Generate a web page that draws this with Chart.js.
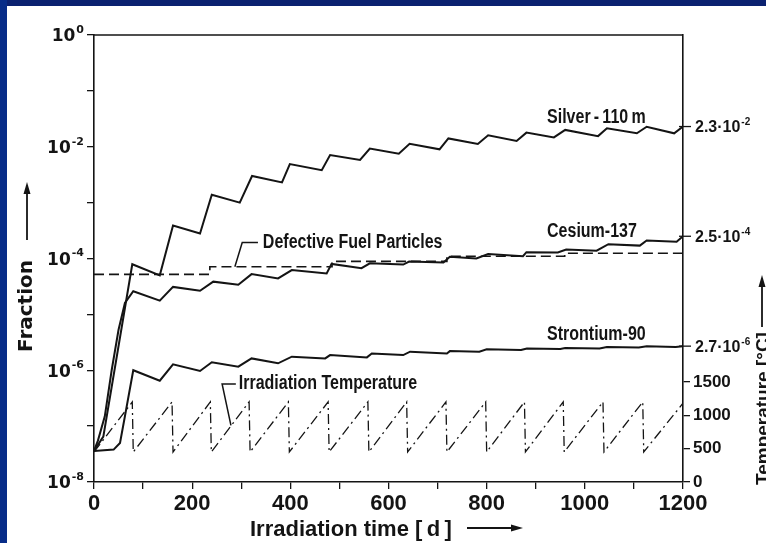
<!DOCTYPE html>
<html>
<head>
<meta charset="utf-8">
<title>Fission product release</title>
<script src="https://cdn.jsdelivr.net/npm/chart.js@4.4.1/dist/chart.umd.min.js"></script>
<style>
  html, body { margin: 0; padding: 0; background: #fff; }
  canvas { display: block; }
</style>
</head>
<body>
<canvas id="releaseChart" width="766" height="543"></canvas>
<script>
// release fraction (log) and irradiation temperature vs. irradiation time
const silverDays = [0, 19, 78, 134, 161, 216, 240, 297, 322, 383, 399, 464, 481, 542, 562, 621, 643, 704, 722, 782, 803, 861, 881, 937, 960, 1027, 1045, 1106, 1126, 1182, 1200];
const silverFraction = [3.6e-8, 6.5e-8, 7.9e-5, 5.0e-5, 3.9e-4, 2.8e-4, 1.38e-3, 1.0e-3, 3.0e-3, 2.3e-3, 4.9e-3, 3.8e-3, 7.1e-3, 5.8e-3, 9.3e-3, 7.5e-3, 1.13e-2, 9.0e-3, 1.41e-2, 1.12e-2, 1.6e-2, 1.27e-2, 1.79e-2, 1.47e-2, 2.0e-2, 1.55e-2, 2.14e-2, 1.74e-2, 2.28e-2, 1.74e-2, 2.3e-2];

const cesiumDays = [0, 8, 22, 36, 50, 63, 80, 134, 161, 216, 243, 294, 321, 375, 403, 474, 484, 545, 562, 630, 642, 712, 725, 779, 803, 874, 881, 945, 962, 1024, 1048, 1112, 1126, 1187, 1200];
const cesiumFraction = [3.6e-8, 5.5e-8, 1.5e-7, 1.0e-6, 5.3e-6, 1.6e-5, 2.6e-5, 1.76e-5, 3.1e-5, 2.65e-5, 3.85e-5, 3.4e-5, 5.25e-5, 4.4e-5, 6.2e-5, 5.4e-5, 8.0e-5, 6.7e-5, 8.2e-5, 7.8e-5, 8.8e-5, 8.5e-5, 1.07e-4, 1.0e-4, 1.2e-4, 1.1e-4, 1.3e-4, 1.28e-4, 1.45e-4, 1.38e-4, 1.8e-4, 1.7e-4, 2.1e-4, 2.0e-4, 2.5e-4];

const strontiumDays = [0, 40, 53, 63, 80, 134, 161, 216, 240, 294, 321, 375, 403, 471, 481, 556, 566, 630, 644, 719, 725, 785, 800, 870, 882, 950, 960, 1030, 1045, 1110, 1126, 1185, 1200];
const strontiumFraction = [3.6e-8, 3.8e-8, 5e-8, 1.5e-7, 1.0e-6, 6.5e-7, 1.28e-6, 9.7e-7, 1.39e-6, 1.16e-6, 1.63e-6, 1.33e-6, 1.75e-6, 1.63e-6, 1.87e-6, 1.7e-6, 2.0e-6, 1.87e-6, 2.15e-6, 2.0e-6, 2.2e-6, 2.15e-6, 2.37e-6, 2.3e-6, 2.45e-6, 2.4e-6, 2.5e-6, 2.45e-6, 2.6e-6, 2.55e-6, 2.7e-6, 2.6e-6, 2.7e-6];

const defectDays = [0, 236, 485, 719, 959, 1200];
const defectFraction = [5.2e-5, 7.1e-5, 8.9e-5, 1.1e-4, 1.24e-4, 1.24e-4];

const tempDays = [0, 78, 80, 159, 161, 237, 239, 316, 318, 396, 398, 477, 479, 558, 560, 637, 639, 717, 719, 798, 800, 877, 879, 956, 958, 1037, 1039, 1118, 1120, 1200];
const tempValues = [450, 1200, 450, 1200, 450, 1200, 450, 1200, 450, 1200, 450, 1200, 450, 1200, 450, 1200, 450, 1200, 450, 1200, 450, 1200, 450, 1200, 450, 1200, 450, 1200, 450, 1180];

// axis ticks
const decades = [-8, -7, -6, -5, -4, -3, -2, -1, 0];
const tempTicks = [0, 500, 1000, 1500];

// final release values written at the right edge
const endValues = [2.3e-2, 2.5e-4, 2.7e-6];
const endMantissa = ['2.3', '2.5', '2.7'];
const endExponent = ['-2', '-4', '-6'];

const ink = '#141414';
const sans = '"Liberation Sans", Arial, sans-serif';
const wide = '"DejaVu Sans", sans-serif';

// curve names, anchored in data units: [text, day, fraction]
const notes = [
  ['Silver\u2009-\u2009110\u2009m', 923, 3.4e-2],
  ['Cesium-137', 923, 3.0e-4],
  ['Strontium-90', 923, 4.3e-6],
  ['Defective Fuel Particles', 344, 1.9e-4],
  ['Irradiation Temperature', 295, 5.9e-7]
];

function pairs(xs, ys) {
  return xs.map((x, i) => ({ x: x, y: ys[i] }));
}

function arrow(ctx, x1, y1, x2, y2) {
  const ang = Math.atan2(y2 - y1, x2 - x1);
  const len = 12, half = 3.5;
  ctx.beginPath();
  ctx.moveTo(x1, y1);
  ctx.lineTo(x2 - Math.cos(ang) * len * 0.8, y2 - Math.sin(ang) * len * 0.8);
  ctx.stroke();
  ctx.beginPath();
  ctx.moveTo(x2, y2);
  ctx.lineTo(x2 - Math.cos(ang) * len - Math.sin(ang) * half, y2 - Math.sin(ang) * len + Math.cos(ang) * half);
  ctx.lineTo(x2 - Math.cos(ang) * len + Math.sin(ang) * half, y2 - Math.sin(ang) * len - Math.cos(ang) * half);
  ctx.closePath();
  ctx.fill();
}

const decorations = {
  id: 'decorations',
  beforeDraw(chart) {
    const ctx = chart.ctx;
    ctx.save();
    ctx.fillStyle = '#fff';
    ctx.fillRect(0, 0, chart.width, chart.height);
    ctx.fillStyle = '#0b2170';
    ctx.fillRect(0, 0, chart.width, 6);
    ctx.fillStyle = '#072c88';
    ctx.fillRect(0, 0, 7, chart.height);
    ctx.restore();
  },
  afterDraw(chart) {
    const ctx = chart.ctx;
    const a = chart.chartArea;
    const x = chart.scales.x, y = chart.scales.y, yT = chart.scales.yT;
    ctx.save();
    ctx.strokeStyle = ink;
    ctx.fillStyle = ink;

    // top edge of the frame
    ctx.lineWidth = 1.6;
    ctx.beginPath();
    ctx.moveTo(a.left, a.top);
    ctx.lineTo(a.right, a.top);
    ctx.stroke();

    // decade labels 10^n on the left axis
    ctx.textBaseline = 'middle';
    ctx.textAlign = 'left';
    y.ticks.forEach(t => {
      const e = Math.round(Math.log10(t.value));
      if (e % 2 !== 0) return;
      const py = y.getPixelForValue(t.value);
      const sup = e === 0 ? '0' : '-' + (-e);
      ctx.font = 'bold 11px ' + wide;
      const ws = ctx.measureText(sup).width;
      const sx = a.left - 10 - ws;
      ctx.fillText(sup, sx, py - 5);
      ctx.font = 'bold 17px ' + wide;
      const wb = ctx.measureText('10').width;
      ctx.fillText('10', sx - 1 - wb, py + 2);
    });

    // end values on the right axis
    ctx.lineWidth = 1.3;
    endValues.forEach((v, i) => {
      const py = y.getPixelForValue(v);
      ctx.beginPath();
      ctx.moveTo(a.right - 4, py);
      ctx.lineTo(a.right + 8, py);
      ctx.stroke();
      const x0 = a.right + 12;
      ctx.font = 'bold 16px ' + sans;
      const txt = endMantissa[i] + '\u00b710';
      ctx.fillText(txt, x0, py + 1.5);
      const w = ctx.measureText(txt).width;
      ctx.font = 'bold 10px ' + sans;
      ctx.fillText(endExponent[i], x0 + w + 1, py - 4);
    });

    // curve names
    ctx.font = 'bold 20px ' + sans;
    notes.forEach(n => {
      ctx.save();
      ctx.translate(x.getPixelForValue(n[1]), y.getPixelForValue(n[2]));
      ctx.scale(0.8, 1);
      ctx.fillText(n[0], 0, 0);
      ctx.restore();
    });

    // leader lines
    ctx.lineWidth = 1.5;
    ctx.beginPath();
    ctx.moveTo(x.getPixelForValue(334), y.getPixelForValue(1.93e-4));
    ctx.lineTo(x.getPixelForValue(302), y.getPixelForValue(1.93e-4));
    ctx.lineTo(x.getPixelForValue(287), y.getPixelForValue(7.1e-5));
    ctx.stroke();
    ctx.beginPath();
    ctx.moveTo(x.getPixelForValue(289), y.getPixelForValue(5.7e-7));
    ctx.lineTo(x.getPixelForValue(261), y.getPixelForValue(5.7e-7));
    ctx.lineTo(x.getPixelForValue(279), yT.getPixelForValue(850));
    ctx.stroke();

    // axis titles with arrows
    ctx.lineWidth = 1.8;
    ctx.textBaseline = 'alphabetic';
    ctx.font = 'bold 22px ' + sans;
    ctx.fillText('Irradiation time [\u2009d\u2009]', 250, 536);
    arrow(ctx, 467, 528, 523, 528);

    ctx.save();
    ctx.translate(32, 352);
    ctx.rotate(-Math.PI / 2);
    ctx.font = 'bold 20px ' + wide;
    ctx.fillText('Fraction', 0, 0);
    ctx.restore();
    arrow(ctx, 27, 240, 27, 182);

    ctx.save();
    ctx.translate(769, 485);
    ctx.rotate(-Math.PI / 2);
    ctx.font = 'bold 19px ' + sans;
    ctx.fillText('Temperature [\u00b0C]', 0, 0);
    ctx.restore();
    arrow(ctx, 762, 327, 762, 275);

    ctx.restore();
  }
};

const axisFont = { family: sans, weight: 'bold' };

new Chart(document.getElementById('releaseChart'), {
  type: 'line',
  data: {
    datasets: [
      { label: 'Silver-110m', data: pairs(silverDays, silverFraction), borderColor: ink, borderWidth: 2 },
      { label: 'Cesium-137', data: pairs(cesiumDays, cesiumFraction), borderColor: ink, borderWidth: 2 },
      { label: 'Strontium-90', data: pairs(strontiumDays, strontiumFraction), borderColor: ink, borderWidth: 2 },
      { label: 'Defective Fuel Particles', data: pairs(defectDays, defectFraction), borderColor: ink, borderWidth: 1.6, borderDash: [10, 5], stepped: 'before' },
      { label: 'Irradiation Temperature', data: pairs(tempDays, tempValues), yAxisID: 'yT', borderColor: ink, borderWidth: 1.3, borderDash: [10, 4, 2, 4] }
    ]
  },
  options: {
    responsive: false,
    animation: false,
    devicePixelRatio: 1,
    layout: { padding: { top: 35, left: 0, right: 0, bottom: 0 } },
    plugins: { legend: { display: false }, tooltip: { enabled: false } },
    elements: { point: { radius: 0 }, line: { tension: 0, fill: false } },
    scales: {
      x: {
        type: 'linear', min: 0, max: 1200,
        ticks: {
          stepSize: 100, autoSkip: false, maxRotation: 0, padding: 2, color: ink,
          font: Object.assign({ size: 22 }, axisFont),
          callback: v => (v % 200 === 0 ? String(v) : '')
        },
        grid: { drawOnChartArea: false, tickLength: 7, color: ink, lineWidth: 1.3 },
        border: { color: ink, width: 1.6 },
        afterFit: s => { s.height = 61; }
      },
      y: {
        type: 'logarithmic', position: 'left', min: 1e-8, max: 1,
        afterBuildTicks: s => { s.ticks = decades.map(e => ({ value: Math.pow(10, e) })); },
        ticks: { display: false },
        grid: { drawOnChartArea: false, tickLength: 7, color: ink, lineWidth: 1.3 },
        border: { color: ink, width: 1.6 },
        afterFit: s => { s.width = 94; }
      },
      yT: {
        type: 'linear', position: 'right', min: 0, max: 6700,
        afterBuildTicks: s => { s.ticks = tempTicks.map(v => ({ value: v })); },
        ticks: {
          padding: 3, color: ink, font: Object.assign({ size: 17 }, axisFont),
          callback: v => String(v)
        },
        grid: { drawOnChartArea: false, tickLength: 7, color: ink, lineWidth: 1.3 },
        border: { color: ink, width: 1.6 },
        afterFit: s => { s.width = 83; }
      }
    }
  },
  plugins: [decorations]
});
</script>
</body>
</html>
